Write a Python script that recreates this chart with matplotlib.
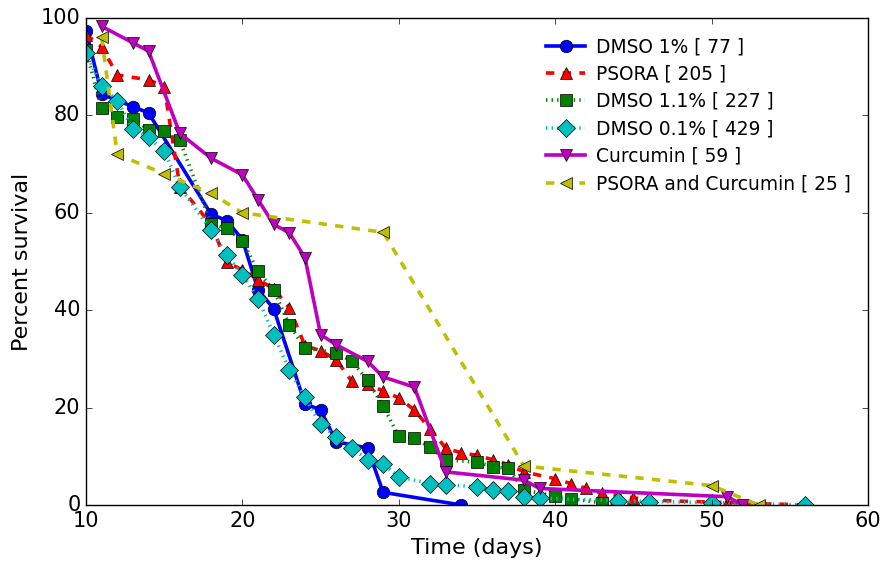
import matplotlib
matplotlib.use("Agg")
import matplotlib.pyplot as plt

plt.style.use("classic")
plt.rcParams["font.family"] = ["DejaVu Sans"]

# ---- data ----
dmso1_days = [10, 11, 13, 14, 18, 19, 20, 21, 22, 24, 25, 26, 28, 29, 34]
dmso1_surv = [97.4, 84.4, 81.8, 80.5, 59.7, 58.4, 54.5, 44.2, 40.3, 20.8, 19.5, 13.0, 11.7, 2.6, 0.0]

psora_days = [10, 11, 12, 14, 15, 16, 18, 19, 20, 21, 22, 23, 24, 25, 26, 27, 28, 29, 30, 31,
              32, 33, 34, 35, 36, 37, 38, 40, 41, 42, 43, 45, 46, 51, 56]
psora_surv = [96.6, 94.1, 88.3, 87.3, 85.9, 65.4, 57.6, 49.8, 48.3, 46.3, 44.4, 40.5, 32.7, 31.7,
              29.8, 25.4, 24.9, 23.4, 22.0, 19.5, 15.6, 11.7, 10.7, 10.2, 9.3, 8.3, 6.8, 5.4, 4.4,
              3.4, 2.4, 1.5, 1.0, 0.5, 0.0]

dmso11_days = [10, 11, 12, 13, 14, 15, 16, 18, 19, 20, 21, 22, 23, 24, 26, 27, 28, 29, 30, 31,
               32, 33, 35, 36, 37, 38, 40, 41, 43, 46]
dmso11_surv = [93.4, 81.5, 79.7, 79.3, 77.1, 76.7, 74.9, 57.7, 56.8, 54.2, 48.0, 44.1, 37.0, 32.2,
               31.3, 29.5, 25.6, 20.3, 14.1, 13.7, 11.9, 9.3, 8.8, 7.9, 7.5, 3.1, 1.8, 1.3, 0.4, 0.0]

dmso01_days = [10, 11, 12, 13, 14, 15, 16, 18, 19, 20, 21, 22, 23, 24, 25, 26, 27, 28, 29, 30,
               32, 33, 35, 36, 37, 38, 39, 44, 46, 50, 56]
dmso01_surv = [92.8, 86.0, 83.0, 77.2, 75.5, 72.7, 65.3, 56.4, 51.3, 47.3, 42.4, 35.0, 27.7, 22.1,
               16.6, 14.0, 11.7, 9.3, 8.4, 5.8, 4.4, 4.2, 3.7, 3.0, 2.8, 1.6, 1.4, 0.9, 0.7, 0.5, 0.0]

curc_days = [11, 13, 14, 16, 18, 20, 21, 22, 23, 24, 25, 26, 28, 29, 31, 33, 38, 39, 51, 52]
curc_surv = [98.3, 94.9, 93.2, 76.3, 71.2, 67.8, 62.7, 57.6, 55.9, 50.8, 35.0, 32.9, 29.5, 26.3,
             24.2, 6.8, 5.1, 3.4, 1.7, 0.0]

pc_days = [11, 12, 15, 18, 20, 29, 38, 50, 53]
pc_surv = [96, 72, 68, 64, 60, 56, 8, 4, 0]

labels = ["DMSO 1% [ 77 ]", "PSORA [ 205 ]", "DMSO 1.1% [ 227 ]",
          "DMSO 0.1% [ 429 ]", "Curcumin [ 59 ]", "PSORA and Curcumin [ 25 ]"]

# ---- plot ----
fig = plt.figure(figsize=(8.84, 5.61), dpi=100, facecolor="white")
ax = fig.add_axes([86 / 884, 1 - 505 / 561, (868 - 86) / 884, (505 - 18) / 561])
ax.set_facecolor("white")

common = dict(lw=2.6, ms=9, mec="k", mew=0.5)
ax.plot(dmso1_days, dmso1_surv, "b-", marker="o", label=labels[0], **common)
ax.plot(psora_days, psora_surv, "r--", marker="^", label=labels[1], **common)
ax.plot(dmso11_days, dmso11_surv, "g:", marker="s", label=labels[2], **common)
ax.plot(dmso01_days, dmso01_surv, "c:", marker="D", label=labels[3], **common)
ax.plot(curc_days, curc_surv, "m-", marker="v", label=labels[4], **common)
ax.plot(pc_days, pc_surv, "y--", marker="<", label=labels[5], **common)

ax.set_xlim(10, 60)
ax.set_ylim(0, 100)
ax.set_xticks([10, 20, 30, 40, 50, 60])
ax.set_yticks([0, 20, 40, 60, 80, 100])
ax.tick_params(labelsize=15)
ax.set_xlabel("Time (days)", fontsize=16, labelpad=5)
ax.set_ylabel("Percent survival", fontsize=16, labelpad=6)

ax.legend(loc="upper right", frameon=False, numpoints=1, fontsize=13.4,
          handlelength=2.1, handletextpad=0.6, labelspacing=0.45,
          bbox_to_anchor=(1.0, 0.995))

fig.savefig("out.png", dpi=100, facecolor="white")
